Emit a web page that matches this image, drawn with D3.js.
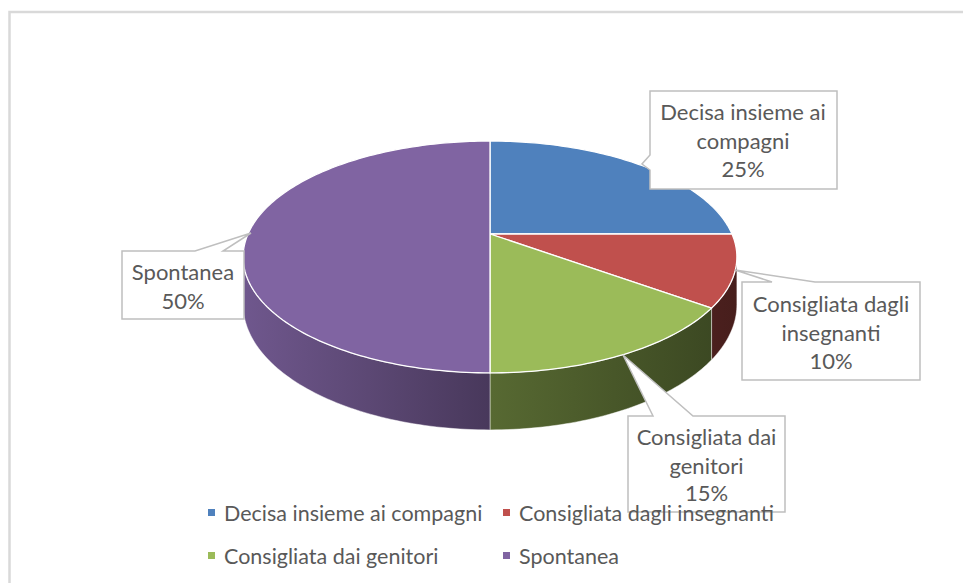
<!DOCTYPE html>
<html>
<head>
<meta charset="utf-8">
<script src="https://cdn.jsdelivr.net/npm/d3@7"></script>
<style>
  body { margin: 0; background: #fff; }
  text { font-family: Lato, "Open Sans", sans-serif; }
</style>
</head>
<body>
<div id="chart"></div>
<script>
// data
var categories = ["Decisa insieme ai compagni", "Consigliata dagli insegnanti", "Consigliata dai genitori", "Spontanea"];
var values = [25, 10, 15, 50];
var colors = ["#4f81bd", "#c0504d", "#9bbb59", "#8064a2"];
// label text lines for the callouts (value is appended)
var labelLines = [["Decisa insieme ai", "compagni"], ["Consigliata dagli", "insegnanti"], ["Consigliata dai", "genitori"], ["Spontanea"]];

var width = 963, height = 583;

var svg = d3.select("#chart").append("svg")
    .attr("width", width)
    .attr("height", height);

// chart frame (cropped on the right and bottom)
svg.append("rect")
    .attr("x", 9.5).attr("y", 12)
    .attr("width", 1000).attr("height", 700)
    .attr("fill", "none")
    .attr("stroke", "#d9d9d9")
    .attr("stroke-width", 2.5);

// 3d perspective projection of the disc
var cx = 490, cy = 234, A = 111.4, B = 242, p = 0.198, H = 45.7;
var project = function(theta, depth) {
    var u = Math.sin(theta), v = Math.cos(theta);
    var s = 1 / (1 + p * v);
    return [cx + B * u * s, cy - A * v * s + depth * H * s];
};

var rimPoints = function(a0, a1, depth) {
    var n = Math.max(2, Math.ceil((a1 - a0) / 0.02));
    var pts = [];
    for (var i = 0; i <= n; i++) {
        pts.push(project(a0 + (a1 - a0) * i / n, depth));
    }
    return pts;
};

var pie = d3.pie().sort(null).value(function(d) { return d; });
var arcs = pie(values);
var total = d3.sum(values);

// side shading gradients
var defs = svg.append("defs");
var shade = d3.scaleLinear().domain([0, 0.5, 1]).range([0.87, 0.56, 0.37]);
colors.forEach(function(c, i) {
    var g = defs.append("linearGradient")
        .attr("id", "side" + i)
        .attr("gradientUnits", "userSpaceOnUse")
        .attr("x1", 245).attr("x2", 737)
        .attr("y1", 0).attr("y2", 0);
    [0, 0.25, 0.5, 0.75, 1].forEach(function(t) {
        var col = d3.rgb(c), k = shade(t);
        g.append("stop")
            .attr("offset", t)
            .attr("stop-color", d3.rgb(col.r * k, col.g * k, col.b * k));
    });
});

var line = d3.line();
var visStart = Math.acos(-p), visEnd = 2 * Math.PI - Math.acos(-p);

// sides
var sides = svg.append("g");
arcs.forEach(function(a, i) {
    var a0 = Math.max(a.startAngle, visStart), a1 = Math.min(a.endAngle, visEnd);
    if (a1 <= a0) return;
    var pts = rimPoints(a0, a1, 0).concat(rimPoints(a0, a1, 1).reverse());
    sides.append("path")
        .attr("d", line(pts) + "Z")
        .attr("fill", "url(#side" + i + ")")
        .attr("stroke", "rgba(255,255,255,0.45)")
        .attr("stroke-width", 1);
});

// top faces
var tops = svg.append("g");
arcs.forEach(function(a, i) {
    var pts = [[cx, cy]].concat(rimPoints(a.startAngle, a.endAngle, 0));
    tops.append("path")
        .attr("d", line(pts) + "Z")
        .attr("fill", colors[i])
        .attr("stroke", "#fff")
        .attr("stroke-width", 1.3)
        .attr("stroke-linejoin", "round");
});

// callouts: box, wedge base and tip
var callouts = [
    {box: [650, 91, 837, 189], wedge: "left", base: [155, 170], tip: [642, 164], tx: 743, ty: [120, 148.5, 177]},
    {box: [742, 282, 920, 380], wedge: "top", base: [772, 815], tip: [735, 270], tx: 831, ty: [312, 340.5, 369]},
    {box: [628, 416, 785, 512], wedge: "top", base: [653, 693], tip: [623, 355], tx: 706.5, ty: [445, 473.5, 501]},
    {box: [122, 251, 244, 319], wedge: "top", base: [195, 223], tip: [251, 233], tx: 183, ty: [280, 308.5]}
];

var calloutPoints = function(c) {
    var x0 = c.box[0], y0 = c.box[1], x1 = c.box[2], y1 = c.box[3];
    if (c.wedge == "left") {
        return [[x0, y0], [x1, y0], [x1, y1], [x0, y1], [x0, c.base[1]], c.tip, [x0, c.base[0]]];
    }
    return [[x0, y0], [c.base[0], y0], c.tip, [c.base[1], y0], [x1, y0], [x1, y1], [x0, y1]];
};

var labels = svg.append("g");
callouts.forEach(function(c, i) {
    labels.append("path")
        .attr("d", line(calloutPoints(c)) + "Z")
        .attr("fill", "#fff")
        .attr("stroke", "#bfbfbf")
        .attr("stroke-width", 1.5);
    var lines = labelLines[i].concat([Math.round(values[i] / total * 100) + "%"]);
    lines.forEach(function(t, j) {
        labels.append("text")
            .attr("x", c.tx)
            .attr("y", c.ty[j])
            .attr("text-anchor", "middle")
            .attr("font-size", "22px")
            .attr("fill", "#595959")
            .text(t);
    });
});

// legend
var legendX = [208, 503], legendY = [521, 564];
var legend = svg.append("g");
categories.forEach(function(name, i) {
    var lx = legendX[i % 2], ly = legendY[Math.floor(i / 2)];
    legend.append("rect")
        .attr("x", lx).attr("y", ly - 12)
        .attr("width", 7).attr("height", 7)
        .attr("fill", colors[i]);
    legend.append("text")
        .attr("x", lx + 16)
        .attr("y", ly)
        .attr("font-size", "21.5px")
        .attr("fill", "#595959")
        .text(name);
});
</script>
</body>
</html>
